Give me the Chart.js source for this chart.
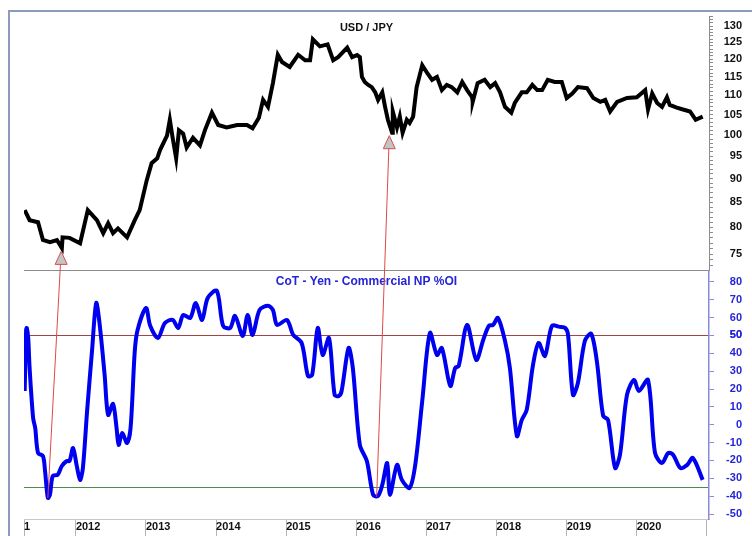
<html>
<head>
<title>USD / JPY and CoT Yen</title>
<script src="https://cdn.jsdelivr.net/npm/chart.js"></script>
<style>
  body { margin: 0; background: #fff; }
  #frame { position: absolute; left: 8px; top: 10px; width: 744px; height: 526px;
           border-left: 2px solid #8b9bbd; border-top: 2px solid #8b9bbd; box-sizing: border-box; }
  #myChart { position: absolute; left: 0; top: 0; }
</style>
</head>
<body>
<div id="frame"></div>
<canvas id="myChart" width="752" height="536"></canvas>
<script>
// USD/JPY weekly-ish closes (decimal year, rate)
const usdYears = [2011.27, 2011.34, 2011.46, 2011.53, 2011.63, 2011.73, 2011.80, 2011.81, 2011.91, 2012.06,
  2012.17, 2012.30, 2012.39, 2012.46, 2012.53, 2012.60, 2012.73, 2012.84, 2012.91, 2013.01,
  2013.08, 2013.16, 2013.20, 2013.30, 2013.34, 2013.38, 2013.43, 2013.47, 2013.53, 2013.58,
  2013.67, 2013.77, 2013.84, 2013.94, 2014.03, 2014.15, 2014.30, 2014.44, 2014.52, 2014.61,
  2014.67, 2014.74, 2014.81, 2014.88, 2014.94, 2015.05, 2015.17, 2015.27, 2015.34, 2015.38,
  2015.48, 2015.59, 2015.67, 2015.74, 2015.87, 2015.94, 2016.01, 2016.05, 2016.08, 2016.12,
  2016.17, 2016.22, 2016.27, 2016.31, 2016.37, 2016.41, 2016.45, 2016.51, 2016.52, 2016.58,
  2016.62, 2016.66, 2016.72, 2016.76, 2016.81, 2016.86, 2016.94, 2017.01, 2017.08, 2017.15,
  2017.22, 2017.29, 2017.36, 2017.44, 2017.51, 2017.58, 2017.65, 2017.66, 2017.73, 2017.83,
  2017.91, 2017.98, 2018.05, 2018.12, 2018.21, 2018.26, 2018.36, 2018.43, 2018.51, 2018.58,
  2018.65, 2018.73, 2018.83, 2018.93, 2019.00, 2019.08, 2019.16, 2019.29, 2019.38, 2019.48,
  2019.55, 2019.62, 2019.72, 2019.86, 2020.00, 2020.12, 2020.16, 2020.22, 2020.29, 2020.36,
  2020.43, 2020.47, 2020.57, 2020.66, 2020.76, 2020.84, 2020.94];
const usdValues = [83.4, 81.4, 81.0, 77.6, 77.2, 77.6, 76.1, 78.1, 78.0, 77.0,
  83.4, 81.4, 78.9, 80.8, 78.9, 79.8, 78.1, 81.4, 83.4, 89.6,
  93.4, 94.5, 96.4, 99.8, 103.7, 99.3, 94.5, 101.1, 100.3, 97.0,
  99.3, 97.5, 101.1, 105.5, 102.4, 101.8, 102.4, 102.4, 101.6, 104.2,
  108.8, 107.0, 113.3, 121.3, 119.2, 117.8, 121.3, 119.7, 119.7, 125.9,
  123.8, 124.4, 119.7, 120.6, 123.4, 120.6, 121.2, 120.6, 115.0, 113.6,
  112.8, 112.2, 110.8, 108.8, 110.8, 107.0, 103.7, 100.5, 105.8, 101.8,
  104.5, 100.5, 103.7, 102.9, 104.5, 112.2, 118.3, 116.1, 114.2, 115.0,
  111.4, 112.8, 112.2, 110.8, 113.6, 111.4, 109.5, 108.3, 113.3, 114.2,
  112.2, 113.3, 110.8, 107.0, 105.5, 108.0, 110.8, 110.8, 112.8, 111.4,
  111.4, 114.2, 113.6, 113.6, 109.3, 110.5, 112.2, 111.9, 109.3, 108.3,
  108.8, 105.8, 108.3, 109.3, 109.5, 111.4, 106.3, 110.5, 108.0, 107.0,
  109.5, 107.5, 106.8, 106.3, 105.8, 103.7, 104.5];

// CoT Yen commercial net position, % of open interest
const cotYears = [2011.27, 2011.29, 2011.30, 2011.32, 2011.34, 2011.39, 2011.42, 2011.46, 2011.53, 2011.56,
  2011.60, 2011.63, 2011.67, 2011.74, 2011.80, 2011.87, 2011.91, 2011.96, 2012.01, 2012.06,
  2012.10, 2012.16, 2012.23, 2012.29, 2012.34, 2012.41, 2012.46, 2012.53, 2012.58, 2012.61,
  2012.66, 2012.73, 2012.78, 2012.84, 2012.88, 2013.00, 2013.06, 2013.17, 2013.27, 2013.38,
  2013.46, 2013.53, 2013.63, 2013.71, 2013.80, 2013.88, 2014.01, 2014.10, 2014.20, 2014.27,
  2014.38, 2014.45, 2014.52, 2014.62, 2014.74, 2014.81, 2014.87, 2015.01, 2015.10, 2015.22,
  2015.31, 2015.37, 2015.45, 2015.52, 2015.61, 2015.69, 2015.75, 2015.79, 2015.89, 2015.95,
  2016.05, 2016.15, 2016.24, 2016.31, 2016.37, 2016.44, 2016.48, 2016.58, 2016.65, 2016.76,
  2016.84, 2016.94, 2017.05, 2017.15, 2017.22, 2017.34, 2017.41, 2017.46, 2017.58, 2017.71,
  2017.81, 2017.89, 2017.95, 2018.02, 2018.12, 2018.19, 2018.29, 2018.36, 2018.43, 2018.52,
  2018.60, 2018.69, 2018.79, 2018.90, 2018.98, 2019.02, 2019.09, 2019.16, 2019.26, 2019.35,
  2019.43, 2019.52, 2019.59, 2019.69, 2019.76, 2019.86, 2019.96, 2020.03, 2020.16, 2020.26,
  2020.36, 2020.45, 2020.52, 2020.62, 2020.72, 2020.80, 2020.94];
const cotValues = [18.9, 53.1, 54.2, 48.6, 31.8, 3.8, -1.8, -15.8, -17.5, -25.9,
  -41.0, -39.3, -28.7, -28.1, -23.1, -20.3, -20.3, -13.0, -22.5, -30.9,
  -24.2, 7.7, 41.3, 68.2, 55.9, 27.9, 5.5, 11.7, -1.8, -11.3,
  -4.6, -10.2, -1.8, 41.3, 53.1, 65.4, 55.4, 48.6, 57.0, 58.7,
  54.2, 61.5, 59.8, 68.2, 58.7, 71.0, 75.0, 55.4, 54.2, 61.0,
  49.7, 61.5, 50.3, 64.3, 66.6, 64.3, 55.9, 58.7, 50.3, 45.8,
  27.3, 27.9, 54.2, 39.1, 48.6, 16.7, 16.1, 18.9, 43.0, 31.8,
  -11.3, -20.3, -39.3, -39.9, -33.7, -21.4, -39.3, -22.5, -30.9, -35.4,
  -22.5, 13.3, 51.4, 39.1, 43.0, 21.7, 31.8, 32.9, 55.9, 36.3,
  47.5, 55.4, 55.9, 59.8, 47.0, 31.8, -6.3, 2.7, 8.3, 33.5,
  45.8, 38.5, 55.4, 54.8, 54.2, 50.3, 16.7, 23.4, 47.0, 50.9,
  35.7, 5.0, 2.7, -24.2, -16.9, 16.7, 25.1, 18.9, 25.1, -15.8,
  -21.4, -15.8, -16.9, -24.2, -22.5, -18.6, -30.9];

const usdTicks = [75, 80, 85, 90, 95, 100, 105, 110, 115, 120, 125, 130];
const cotTicks = [-50, -40, -30, -20, -10, 0, 10, 20, 30, 40, 50, 60, 70, 80];
const yearTicks = [2012, 2013, 2014, 2015, 2016, 2017, 2018, 2019, 2020, 2021];
const cotLevels = [50, -35];   // horizontal reference lines

// arrows linking CoT lows to USD/JPY lows
const arrowFromYears = [2011.60, 2016.29];
const arrowFromValues = [-41, -40.4];
const arrowToYears = [2011.79, 2016.47];
const arrowToValues = [75.5, 99.8];

const xMin = 2011.26, xMax = 2021.03;
const usdMin = 72.1, usdMax = 133.2;
const cotMin = -52.8, cotMax = 86.4;

const blue = '#2525d8';

const overlay = {
    id: 'overlay',
    afterDatasetsDraw(chart) {
        const ctx = chart.ctx;
        const x = chart.scales.x, yu = chart.scales.usd, yc = chart.scales.cot;
        const cx = (chart.chartArea.left + chart.chartArea.right) / 2;
        ctx.save();
        ctx.textAlign = 'center';
        ctx.textBaseline = 'middle';
        ctx.font = 'bold 11px "Liberation Sans", Arial, sans-serif';
        ctx.fillStyle = '#111';
        ctx.fillText('USD / JPY', cx, yu.top + 12);
        ctx.font = 'bold 12px "Liberation Sans", Arial, sans-serif';
        ctx.fillStyle = blue;
        ctx.fillText('CoT - Yen - Commercial NP %OI', cx, yc.top + 11);

        for (let i = 0; i < arrowFromYears.length; i++) {
            const x0 = x.getPixelForValue(arrowFromYears[i]);
            const y0 = yc.getPixelForValue(arrowFromValues[i]);
            const x1 = x.getPixelForValue(arrowToYears[i]);
            const y1 = yu.getPixelForValue(arrowToValues[i]);
            const base = y1 + 13;
            const bx = x0 + (x1 - x0) * (y0 - base) / (y0 - y1);
            ctx.strokeStyle = '#e04848';
            ctx.lineWidth = 1;
            ctx.beginPath();
            ctx.moveTo(x0, y0);
            ctx.lineTo(bx, base);
            ctx.stroke();
            ctx.beginPath();
            ctx.moveTo(x1, y1);
            ctx.lineTo(x1 + 6, base);
            ctx.lineTo(x1 - 6, base);
            ctx.closePath();
            ctx.fillStyle = '#c4c4c4';
            ctx.fill();
            ctx.strokeStyle = '#d05050';
            ctx.stroke();
        }
        ctx.restore();
    }
};

const ctx = document.getElementById('myChart').getContext('2d');
new Chart(ctx, {
    type: 'line',
    data: {
        datasets: [{
            label: 'USD / JPY',
            data: usdYears.map((t, i) => ({x: t, y: usdValues[i]})),
            yAxisID: 'usd',
            borderColor: '#000',
            borderWidth: 4,
            pointRadius: 0,
            tension: 0
        }, {
            label: 'CoT - Yen - Commercial NP %OI',
            data: cotYears.map((t, i) => ({x: t, y: cotValues[i]})),
            yAxisID: 'cot',
            borderColor: '#0000f0',
            borderWidth: 4,
            pointRadius: 0,
            tension: 0.3
        }]
    },
    options: {
        responsive: false,
        animation: false,
        layout: { padding: { left: 24, top: 16, right: 10, bottom: 0 } },
        plugins: { legend: { display: false }, tooltip: { enabled: false } },
        scales: {
            x: {
                type: 'linear',
                min: xMin,
                max: xMax,
                afterBuildTicks: s => { s.ticks = [{value: xMin}].concat(yearTicks.map(v => ({value: v}))); },
                afterFit: s => { s.height = 17; },
                ticks: {
                    autoSkip: false,
                    maxRotation: 0,
                    align: 'start',
                    padding: -16,
                    color: '#111',
                    font: { family: '"Liberation Sans", Arial, sans-serif', size: 11, weight: 'bold' },
                    callback: v => v === xMin ? '1' : (v === 2021 ? '' : String(v))
                },
                grid: { drawOnChartArea: false, tickLength: 17, color: '#b4b4b4' },
                border: { display: true, color: '#c8c8c8' }
            },
            usd: {
                type: 'logarithmic',
                position: 'right',
                stack: 'panels',
                stackWeight: 1.024,
                min: usdMin,
                max: usdMax,
                afterBuildTicks: s => {
                    const t = [];
                    for (let v = 73; v <= 133; v++) t.push({value: v});
                    s.ticks = t;
                },
                afterFit: s => { s.width = 33; },
                ticks: {
                    autoSkip: false,
                    crossAlign: 'far',
                    padding: 6,
                    color: '#111',
                    font: { family: '"Liberation Sans", Arial, sans-serif', size: 11, weight: 'bold' },
                    callback: v => (usdTicks.includes(v) ? String(v) : '')
                },
                grid: { drawOnChartArea: false, tickLength: 4, color: '#8c8c8c' },
                border: { display: true, color: '#8c8c8c' }
            },
            cot: {
                type: 'linear',
                position: 'right',
                stack: 'panels',
                stackWeight: 1,
                min: cotMin,
                max: cotMax,
                afterBuildTicks: s => {
                    s.ticks = cotTicks.concat(cotLevels, [cotMax]).map(v => ({value: v}));
                },
                afterFit: s => { s.width = 33; },
                ticks: {
                    autoSkip: false,
                    crossAlign: 'far',
                    padding: 6,
                    color: blue,
                    font: { family: '"Liberation Sans", Arial, sans-serif', size: 11, weight: 'bold' },
                    callback: v => (cotTicks.includes(v) ? String(v) : '')
                },
                grid: {
                    tickLength: 5,
                    color: c => {
                        const v = c.tick && c.tick.value;
                        if (v === 50) return '#a04444';
                        if (v === -35) return '#4a8c4a';
                        if (v === cotMax) return '#8c8c8c';
                        return 'rgba(0,0,0,0)';
                    },
                    tickColor: c => (cotTicks.includes(c.tick && c.tick.value) ? '#8a8ad8' : 'rgba(0,0,0,0)')
                },
                border: { display: true, color: '#8a8ad8', width: 1.5 }
            }
        }
    },
    plugins: [overlay]
});
</script>
</body>
</html>
